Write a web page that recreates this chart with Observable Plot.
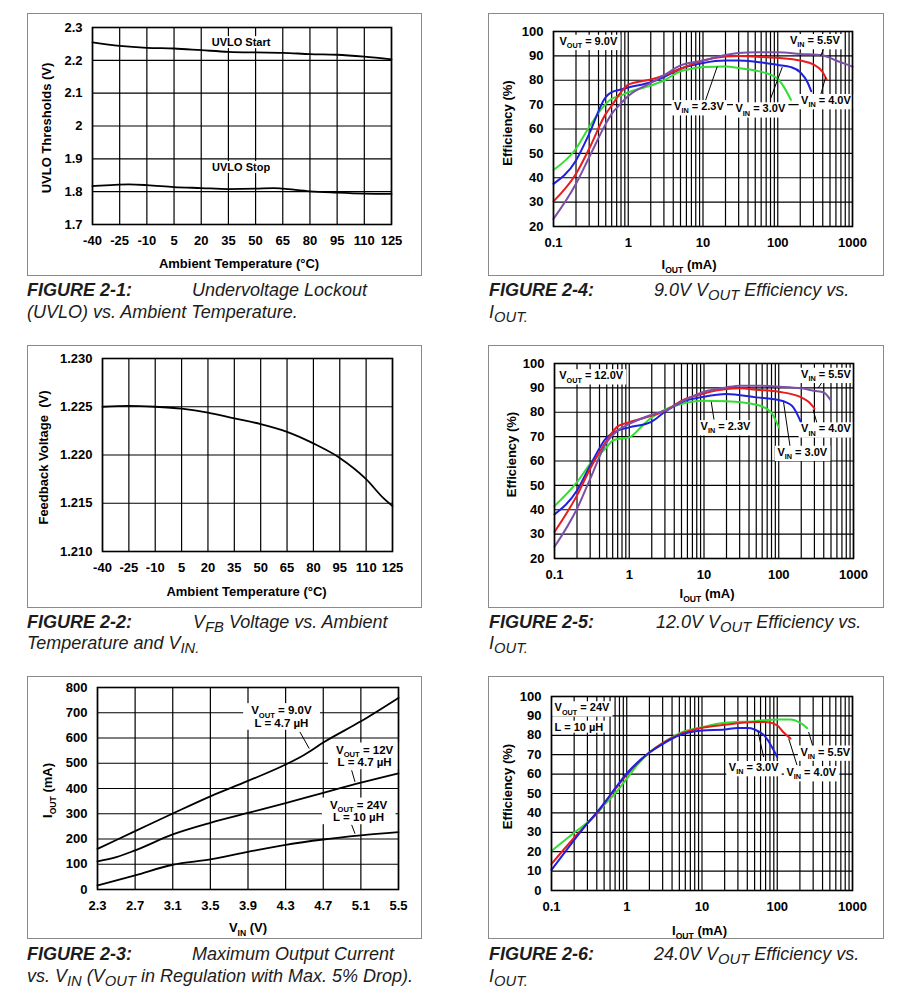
<!DOCTYPE html>
<html>
<head>
<meta charset="utf-8">
<script src="https://cdn.jsdelivr.net/npm/d3@7"></script>
<script src="https://cdn.jsdelivr.net/npm/@observablehq/plot@0.6"></script>
<style>
html,body{margin:0;padding:0;background:#fff;}
#page{position:relative;width:909px;height:1008px;overflow:hidden;background:#fff;}
.box{position:absolute;border:1.5px solid #8a8a8a;box-sizing:border-box;}
.cap{position:absolute;font-family:"Liberation Sans",Arial,Helvetica,sans-serif;font-size:18px;line-height:18px;font-style:italic;color:#1c1c1c;white-space:nowrap;}
.cap b{font-weight:bold;}
.cap sub{font-size:0.82em;vertical-align:-0.25em;line-height:0;}
</style>
</head>
<body>
<div id="page">
  <div class="cap" style="left:27px;top:281px"><b>FIGURE 2-1:</b></div>
  <div class="cap" style="left:192px;top:281px">Undervoltage Lockout</div>
  <div class="cap" style="left:27px;top:303px">(UVLO) vs. Ambient Temperature.</div>

  <div class="cap" style="left:489px;top:281px"><b>FIGURE 2-4:</b></div>
  <div class="cap" style="left:654px;top:281px">9.0V V<sub>OUT</sub> Efficiency vs.</div>
  <div class="cap" style="left:489px;top:303px">I<sub>OUT.</sub></div>

  <div class="cap" style="left:27px;top:613px"><b>FIGURE 2-2:</b></div>
  <div class="cap" style="left:193px;top:613px">V<sub>FB</sub> Voltage vs. Ambient</div>
  <div class="cap" style="left:27px;top:634px">Temperature and V<sub>IN.</sub></div>

  <div class="cap" style="left:489px;top:613px"><b>FIGURE 2-5:</b></div>
  <div class="cap" style="left:656px;top:613px">12.0V V<sub>OUT</sub> Efficiency vs.</div>
  <div class="cap" style="left:489px;top:634px">I<sub>OUT.</sub></div>

  <div class="cap" style="left:27px;top:945px"><b>FIGURE 2-3:</b></div>
  <div class="cap" style="left:192px;top:945px">Maximum Output Current</div>
  <div class="cap" style="left:27px;top:967px">vs. V<sub>IN</sub> (V<sub>OUT</sub> in Regulation with Max. 5% Drop).</div>

  <div class="cap" style="left:489px;top:945px"><b>FIGURE 2-6:</b></div>
  <div class="cap" style="left:654px;top:945px">24.0V V<sub>OUT</sub> Efficiency vs.</div>
  <div class="cap" style="left:489px;top:967px">I<sub>OUT.</sub></div>
</div>
<script>
// ---------- DATA ----------
// Figure 2-1: UVLO thresholds vs temperature
const tempTicks = [-40, -25, -10, 5, 20, 35, 50, 65, 80, 95, 110, 125];
const uvloYTicks = [1.7, 1.8, 1.9, 2.0, 2.1, 2.2, 2.3];
const uvloStartTemp = [-40, -25, -10, 5, 20, 35, 50, 65, 80, 95, 110, 125];
const uvloStart = [2.255, 2.244, 2.238, 2.236, 2.231, 2.226, 2.224, 2.223, 2.219, 2.217, 2.211, 2.203];
const uvloStopTemp = [-40, -30, -20, -10, 5, 20, 35, 50, 60, 65, 80, 95, 110, 125];
const uvloStop = [1.817, 1.820, 1.822, 1.820, 1.814, 1.811, 1.808, 1.809, 1.811, 1.809, 1.801, 1.797, 1.794, 1.793];

// Figure 2-2: feedback voltage vs temperature
const vfbYTicks = [1.210, 1.215, 1.220, 1.225, 1.230];
const vfbTemp = [-40, -25, -10, 5, 20, 35, 50, 65, 80, 95, 110, 120, 125];
const vfb = [1.2250, 1.2251, 1.2250, 1.2248, 1.2244, 1.2238, 1.2232, 1.2224, 1.2212, 1.2197, 1.2175, 1.2155, 1.2147];

// Figure 2-3: max output current vs VIN
const vinTicks = [2.3, 2.7, 3.1, 3.5, 3.9, 4.3, 4.7, 5.1, 5.5];
const ioutYTicks = [0, 100, 200, 300, 400, 500, 600, 700, 800];
const vin9V = [2.3, 2.7, 3.1, 3.5, 3.9, 4.3, 4.5, 4.7, 5.1, 5.5];
const iout9V = [161, 231, 301, 369, 430, 495, 534, 582, 666, 759];
const vin12V = [2.3, 2.5, 2.7, 3.1, 3.5, 3.9, 4.3, 4.7, 5.1, 5.5];
const iout12V = [111, 128, 155, 218, 264, 303, 342, 383, 423, 460];
const vin24V = [2.3, 2.7, 3.1, 3.5, 3.9, 4.3, 4.7, 5.1, 5.5];
const iout24V = [16, 56, 98, 119, 149, 177, 198, 214, 227];

// Efficiency axes
const ioutLogTicks = [0.1, 1, 10, 100, 1000];
const eff20Ticks = [20, 30, 40, 50, 60, 70, 80, 90, 100];
const eff0Ticks = [0, 10, 20, 30, 40, 50, 60, 70, 80, 90, 100];

// Figure 2-4: VOUT = 9.0V
const f4x23 = [0.1, 0.2, 0.3, 0.5, 0.6, 0.8, 1, 2, 3, 5, 7, 10, 20, 30, 50, 70, 100, 120, 150];
const f4y23 = [43.2, 51.9, 60.8, 70.3, 72.4, 73.7, 75.0, 77.8, 79.9, 83.7, 84.7, 85.4, 85.6, 85.0, 84.0, 82.9, 80.6, 77.4, 72.0];
const f4x30 = [0.1, 0.2, 0.3, 0.5, 0.6, 0.8, 1, 2, 3, 5, 10, 20, 30, 50, 100, 150, 200, 250, 280];
const f4y30 = [37.5, 47.1, 58.0, 73.1, 75.1, 76.2, 77.0, 79.2, 81.3, 84.7, 87.1, 88.1, 88.1, 87.6, 86.3, 85.4, 83.3, 79.2, 75.5];
const f4x40 = [0.1, 0.2, 0.3, 0.5, 0.6, 0.8, 1, 2, 3, 5, 10, 20, 30, 50, 100, 200, 300, 400, 450];
const f4y40 = [30.3, 41.6, 51.9, 66.2, 69.6, 75.1, 78.2, 80.3, 82.0, 84.7, 88.1, 89.7, 89.9, 89.7, 89.2, 88.1, 86.5, 83.3, 80.3];
const f4x55 = [0.1, 0.2, 0.3, 0.5, 0.6, 0.8, 1, 2, 3, 5, 10, 20, 30, 50, 100, 200, 400, 600, 800, 1000];
const f4y55 = [23.1, 37.5, 48.4, 62.1, 66.2, 70.5, 73.5, 78.9, 82.0, 86.1, 88.1, 90.4, 91.2, 91.5, 91.5, 90.8, 90.2, 88.1, 86.7, 85.6];

// Figure 2-5: VOUT = 12.0V
const f5x23 = [0.1, 0.2, 0.3, 0.5, 0.6, 0.8, 1, 1.5, 2, 3, 5, 10, 20, 50, 70, 80, 100];
const f5y23 = [41.5, 51.3, 58.8, 65.7, 68.4, 69.3, 69.7, 74.5, 77.9, 81.1, 83.4, 84.7, 84.5, 83.1, 81.3, 79.7, 73.8];
const f5x30 = [0.1, 0.2, 0.3, 0.5, 0.7, 1, 2, 3, 5, 10, 20, 50, 100, 150, 200];
const f5y30 = [38.1, 47.9, 58.2, 69.7, 72.5, 73.8, 76.2, 80.2, 84.1, 86.4, 87.5, 86.1, 85.0, 82.7, 75.6];
const f5x40 = [0.1, 0.2, 0.3, 0.5, 0.7, 1, 2, 3, 5, 10, 20, 30, 50, 100, 200, 250, 300];
const f5y40 = [30.9, 45.9, 56.8, 68.4, 74.2, 75.9, 78.6, 80.6, 84.7, 87.7, 89.5, 89.8, 89.2, 88.4, 86.1, 84.3, 81.6];
const f5x55 = [0.1, 0.2, 0.3, 0.5, 0.7, 1, 2, 3, 5, 10, 20, 30, 50, 100, 200, 300, 400, 500];
const f5y55 = [24.8, 40.4, 52.7, 67.7, 72.5, 75.2, 79.0, 80.6, 84.3, 88.4, 90.2, 90.9, 90.9, 90.5, 89.8, 88.8, 88.1, 84.7];

// Figure 2-6: VOUT = 24V
const f6x55 = [0.1, 0.2, 0.3, 0.4, 0.5, 0.7, 1, 1.5, 2, 3, 5, 10, 20, 50, 100, 150, 200, 250];
const f6y55 = [20.4, 29.8, 35.1, 39.7, 44.0, 50.0, 57.7, 66.3, 71.1, 76.0, 81.0, 84.2, 86.5, 87.3, 88.2, 88.2, 86.5, 83.7];
const f6x40 = [0.1, 0.2, 0.3, 0.4, 0.5, 0.7, 1, 2, 3, 5, 10, 20, 50, 70, 100, 120, 150];
const f6y40 = [13.7, 27.2, 34.6, 39.7, 44.9, 52.2, 59.8, 71.1, 76.0, 80.5, 83.9, 85.4, 86.8, 86.8, 85.1, 81.7, 78.3];
const f6x30 = [0.1, 0.2, 0.3, 0.4, 0.5, 0.7, 1, 2, 3, 5, 10, 20, 30, 40, 50, 70, 100];
const f6y30 = [10.6, 26.0, 34.6, 40.2, 44.9, 52.6, 60.3, 71.1, 75.5, 80.0, 82.5, 83.0, 83.7, 83.7, 83.0, 79.1, 68.8];

// Annotations (data coordinates)
const f1Labels = [
  {x: 42, y: 2.254, text: "UVLO Start", anchor: "middle"},
  {x: 42, y: 1.874, text: "UVLO Stop", anchor: "middle"}
];
const f3Labels = [
  {x: 4.255, y: 685.5, text: "V_{OUT} = 9.0V\nL = 4.7 µH", anchor: "middle"},
  {x: 5.14, y: 529.5, text: "V_{OUT} = 12V\nL = 4.7 µH", anchor: "middle"},
  {x: 5.075, y: 311.5, text: "V_{OUT} = 24V\nL = 10 µH", anchor: "middle"}
];
const f3Pointers = [
  {x1: 4.452, y1: 624, x2: 4.551, y2: 558},
  {x1: 5.002, y1: 472, x2: 5.038, y2: 426},
  {x1: 5.002, y1: 256, x2: 5.038, y2: 221}
];
const f4Labels = [
  {x: 0.12, y: 96, text: "V_{OUT} = 9.0V", anchor: "start"},
  {x: 675, y: 96.3, text: "V_{IN} = 5.5V", anchor: "end"},
  {x: 4.1, y: 69.2, text: "V_{IN} = 2.3V", anchor: "start"},
  {x: 27.2, y: 68.3, text: "V_{IN} = 3.0V", anchor: "start"},
  {x: 950, y: 71.7, text: "V_{IN} = 4.0V", anchor: "end"}
];
const f4Pointers = [
  {x1: 10.8, y1: 71.7, x2: 15.5, y2: 85.6},
  {x1: 80, y1: 72.4, x2: 115, y2: 85.4},
  {x1: 373, y1: 73.7, x2: 436, y2: 81.2},
  {x1: 422, y1: 93.6, x2: 373, y2: 89.9}
];
const f5Labels = [
  {x: 0.1155, y: 95.0, text: "V_{OUT} = 12.0V", anchor: "start"},
  {x: 921, y: 95.6, text: "V_{IN} = 5.5V", anchor: "end"},
  {x: 9.0, y: 74.1, text: "V_{IN} = 2.3V", anchor: "start"},
  {x: 921, y: 73.2, text: "V_{IN} = 4.0V", anchor: "end"},
  {x: 96, y: 63.6, text: "V_{IN} = 3.0V", anchor: "start"}
];
const f5Pointers = [
  {x1: 13.6, y1: 77.0, x2: 12.5, y2: 84.3},
  {x1: 142, y1: 65.7, x2: 116, y2: 84.1},
  {x1: 330, y1: 74.8, x2: 288, y2: 81.1},
  {x1: 385, y1: 92.6, x2: 336, y2: 89.9}
];
const f6Labels = [
  {x: 0.11, y: 94.2, text: "V_{OUT} = 24V", anchor: "start"},
  {x: 0.11, y: 84.2, text: "L = 10 µH", anchor: "start"},
  {x: 931, y: 71.4, text: "V_{IN} = 5.5V", anchor: "end"},
  {x: 22.7, y: 63.4, text: "V_{IN} = 3.0V", anchor: "start"},
  {x: 607, y: 60.8, text: "V_{IN} = 4.0V", anchor: "end"}
];
const f6Pointers = [
  {x1: 66, y1: 68.8, x2: 55.6, y2: 81.7},
  {x1: 183, y1: 64.6, x2: 142, y2: 78.3},
  {x1: 304, y1: 73.1, x2: 261, y2: 81.7}
];

// ---------- RENDERING ----------
const FONT = '"Liberation Sans", Arial, Helvetica, sans-serif';
const GREEN = "#33dd33", BLUE = "#1f1fe0", RED = "#e81c1c", PURPLE = "#7c4fa8";
const NS = "http://www.w3.org/2000/svg";
const page = document.getElementById("page");
const logGrid = d3.range(-1, 3).flatMap(e => d3.range(1, 10).map(m => m * Math.pow(10, e))).concat([1000]);

// turn "V_{IN}" markup into subscript tspans
function richifyNode(el) {
  const s = el.textContent;
  if (!s.includes("_{")) return;
  const fs = parseFloat(getComputedStyle(el).fontSize) || 12;
  const shift = fs * 0.3;
  el.textContent = "";
  let down = false;
  const add = (str, sub) => {
    const t = document.createElementNS(NS, "tspan");
    t.textContent = str;
    if (sub) { t.style.fontSize = "0.66em"; t.setAttribute("dy", shift); down = true; }
    else if (down) { t.setAttribute("dy", -shift); down = false; }
    el.appendChild(t);
  };
  const re = /_\{([^}]*)\}/g;
  let last = 0, m;
  while ((m = re.exec(s))) {
    if (m.index > last) add(s.slice(last, m.index), false);
    add(m[1], true);
    last = re.lastIndex;
  }
  if (last < s.length) add(s.slice(last), false);
}
function richify(root) {
  root.querySelectorAll("text").forEach(t => {
    if (t.children.length) Array.from(t.children).forEach(c => { if (!c.children.length) richifyNode(c); });
    else richifyNode(t);
  });
}

function series(xs, ys, color, sw = 2) {
  return Plot.line(xs.map((x, i) => ({x, y: ys[i]})), {x: "x", y: "y", stroke: color, strokeWidth: sw, curve: "monotone-x"});
}

function labelMarks(ann, fontSize = 11, lineHeight = 1) {
  return ["start", "middle", "end"].map(anchor => Plot.text(ann.filter(a => a.anchor === anchor), {
    x: "x", y: "y", text: "text", textAnchor: anchor, lineAnchor: "middle", lineHeight,
    fontSize, fontWeight: "bold", fill: "#000"
  }));
}

function pointerMark(p) {
  return Plot.link(p, {x1: "x1", y1: "y1", x2: "x2", y2: "y2", stroke: "#000", strokeWidth: 1});
}

function panel(o) {
  const box = document.createElement("div");
  box.className = "box";
  Object.assign(box.style, {left: o.left + "px", top: o.top + "px", width: o.width + "px", height: o.height + "px"});
  page.appendChild(box);
  const svg = Plot.plot({
    width: o.width, height: o.height,
    marginLeft: o.ml, marginTop: o.mt, marginRight: o.mr, marginBottom: o.mb,
    x: Object.assign({label: null, tickSize: 0, tickPadding: 11}, o.x),
    y: Object.assign({label: null, tickSize: 0, tickPadding: 10}, o.y),
    style: {fontFamily: FONT, fontSize: "13px", fontWeight: "bold", color: "#000", background: "transparent", overflow: "visible"},
    marks: [
      Plot.ruleX(o.xGrid, {stroke: "#000", strokeWidth: 1.2}),
      Plot.ruleY(o.yGrid, {stroke: "#000", strokeWidth: 1.2}),
      ...o.marks,
      Plot.frame({stroke: "#000", strokeWidth: 1.6}),
      Plot.text([o.xLabel], {text: d => d, frameAnchor: "bottom", textAnchor: "middle", dy: o.xLabelDy, dx: o.xLabelDx || 0, fontSize: 13, fontWeight: "bold", lineAnchor: "middle", fill: "#000"}),
      Plot.text([o.yLabel], {text: d => d, frameAnchor: "left", textAnchor: "middle", rotate: -90, dx: o.yLabelDx, dy: o.yLabelDy || 0, fontSize: 13, fontWeight: "bold", lineAnchor: "middle", fill: "#000"})
    ]
  });
  svg.style.position = "absolute";
  svg.style.left = o.left + "px";
  svg.style.top = o.top + "px";
  page.appendChild(svg);
  const labelSet = new Set((o.labels || []).map(a => a.text.replace(/\n/g, "")));
  const targets = Array.from(svg.querySelectorAll("text")).filter(t => labelSet.has(t.textContent));
  richify(svg);
  // white box behind each annotation label
  const px = o.padX == null ? 2.5 : o.padX, py = o.padY == null ? 0 : o.padY;
  targets.forEach(t => {
    const b = t.getBBox();
    const r = document.createElementNS(NS, "rect");
    r.setAttribute("x", b.x - px); r.setAttribute("y", b.y - py);
    r.setAttribute("width", b.width + 2 * px); r.setAttribute("height", b.height + 2 * py);
    r.setAttribute("fill", "#fff"); r.setAttribute("stroke", "none");
    const tr = t.getAttribute("transform");
    if (tr) r.setAttribute("transform", tr);
    t.parentNode.insertBefore(r, t);
  });
}

const fmtPlain = d => String(Math.round(d * 1000) / 1000);

// Figure 2-1
panel({
  left: 27, top: 13, width: 395, height: 263, ml: 65, mt: 14, mr: 31, mb: 52,
  x: {domain: [-40, 125], ticks: tempTicks, tickFormat: fmtPlain},
  y: {domain: [1.7, 2.3], ticks: uvloYTicks, tickFormat: fmtPlain},
  xGrid: tempTicks, yGrid: uvloYTicks,
  labels: f1Labels,
  marks: [
    series(uvloStartTemp, uvloStart, "#000", 1.8),
    series(uvloStopTemp, uvloStop, "#000", 1.8),
    ...labelMarks(f1Labels, 11)
  ],
  xLabel: "Ambient Temperature (°C)", xLabelDy: 39, xLabelDx: -3,
  yLabel: "UVLO Thresholds (V)", yLabelDx: -46, yLabelDy: 2
});

// Figure 2-4
panel({
  left: 488, top: 13, width: 396, height: 263, ml: 65, mt: 18, mr: 32, mb: 50,
  x: {type: "log", domain: [0.1, 1000], ticks: ioutLogTicks, tickFormat: d => String(d)},
  y: {domain: [20, 100], ticks: eff20Ticks},
  xGrid: logGrid, yGrid: eff20Ticks,
  labels: f4Labels,
  marks: [
    series(f4x23, f4y23, GREEN),
    series(f4x30, f4y30, BLUE),
    series(f4x40, f4y40, RED),
    series(f4x55, f4y55, PURPLE),
    pointerMark(f4Pointers),
    ...labelMarks(f4Labels)
  ],
  xLabel: "I_{OUT} (mA)", xLabelDy: 38, xLabelDx: -14,
  yLabel: "Efficiency (%)", yLabelDx: -46, yLabelDy: -6
});

// Figure 2-2
panel({
  left: 27, top: 345, width: 395, height: 263, ml: 75, mt: 13, mr: 30, mb: 57,
  x: {domain: [-40, 125], ticks: tempTicks, tickFormat: fmtPlain},
  y: {domain: [1.210, 1.230], ticks: vfbYTicks, tickFormat: d3.format(".3f")},
  xGrid: tempTicks, yGrid: vfbYTicks,
  marks: [
    series(vfbTemp, vfb, "#000", 1.8)
  ],
  xLabel: "Ambient Temperature (°C)", xLabelDy: 40, xLabelDx: -1,
  yLabel: "Feedback Voltage  (V)", yLabelDx: -59, yLabelDy: 2.5
});

// Figure 2-5
panel({
  left: 488, top: 345, width: 396, height: 263, ml: 66, mt: 18, mr: 31, mb: 50,
  x: {type: "log", domain: [0.1, 1000], ticks: ioutLogTicks, tickFormat: d => String(d)},
  y: {domain: [20, 100], ticks: eff20Ticks},
  xGrid: logGrid, yGrid: eff20Ticks,
  labels: f5Labels,
  marks: [
    series(f5x23, f5y23, GREEN),
    series(f5x30, f5y30, BLUE),
    series(f5x40, f5y40, RED),
    series(f5x55, f5y55, PURPLE),
    pointerMark(f5Pointers),
    ...labelMarks(f5Labels)
  ],
  xLabel: "I_{OUT} (mA)", xLabelDy: 35, xLabelDx: 3,
  yLabel: "Efficiency (%)", yLabelDx: -43, yLabelDy: -6.5
});

// Figure 2-3
panel({
  left: 27, top: 676, width: 395, height: 263, ml: 70, mt: 11, mr: 24, mb: 50,
  x: {domain: [2.3, 5.5], ticks: vinTicks, tickFormat: d3.format(".1f")},
  y: {domain: [0, 800], ticks: ioutYTicks},
  xGrid: vinTicks, yGrid: ioutYTicks,
  labels: f3Labels, padX: 8, padY: 1,
  marks: [
    series(vin9V, iout9V, "#000", 1.8),
    series(vin12V, iout12V, "#000", 1.8),
    series(vin24V, iout24V, "#000", 1.8),
    pointerMark(f3Pointers),
    ...labelMarks(f3Labels, 11.5, 1.1)
  ],
  xLabel: "V_{IN} (V)", xLabelDy: 38, xLabelDx: 0,
  yLabel: "I_{OUT} (mA)", yLabelDx: -50, yLabelDy: 2
});

// Figure 2-6
panel({
  left: 488, top: 676, width: 396, height: 263, ml: 63, mt: 20, mr: 32, mb: 49,
  x: {type: "log", domain: [0.1, 1000], ticks: ioutLogTicks, tickFormat: d => String(d)},
  y: {domain: [0, 100], ticks: eff0Ticks},
  xGrid: logGrid, yGrid: eff0Ticks,
  labels: f6Labels,
  marks: [
    series(f6x55, f6y55, GREEN),
    series(f6x40, f6y40, RED),
    series(f6x30, f6y30, BLUE),
    pointerMark(f6Pointers),
    ...labelMarks(f6Labels)
  ],
  xLabel: "I_{OUT} (mA)", xLabelDy: 40, xLabelDx: -2.5,
  yLabel: "Efficiency (%)", yLabelDx: -44, yLabelDy: -7
});
</script>
</body>
</html>
